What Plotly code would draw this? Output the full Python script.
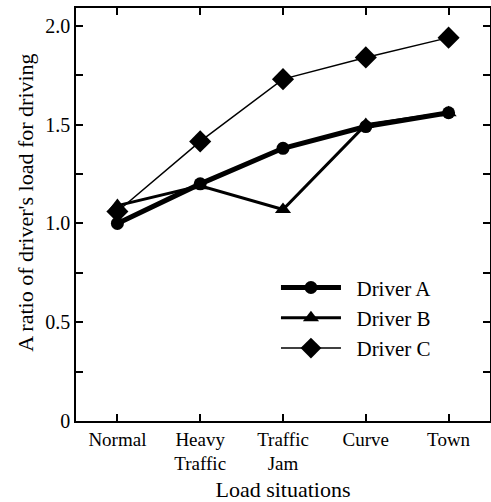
import plotly.graph_objects as go

categories = ["Normal", "Heavy<br>Traffic", "Traffic<br>Jam", "Curve", "Town"]
driver_a = [1.00, 1.20, 1.38, 1.49, 1.56]
driver_b = [1.09, 1.19, 1.07, 1.50, 1.56]
driver_c = [1.06, 1.415, 1.73, 1.84, 1.94]
y_tick_vals = [0, 0.25, 0.5, 0.75, 1.0, 1.25, 1.5, 1.75, 2.0]
y_tick_text = ["0", "", "0.5", "", "1.0", "", "1.5", "", "2.0"]

FONT = "Liberation Serif"
x = list(range(len(categories)))

fig = go.Figure()
fig.add_trace(go.Scatter(x=x, y=driver_a, name="\u00a0\u00a0Driver A", mode="lines+markers",
                         line=dict(color="black", width=5),
                         marker=dict(symbol="circle", size=13, color="black")))
fig.add_trace(go.Scatter(x=x, y=driver_b, name="\u00a0\u00a0Driver B", mode="lines+markers",
                         line=dict(color="black", width=3),
                         marker=dict(symbol="triangle-up", size=14, color="black")))
fig.add_trace(go.Scatter(x=x, y=driver_c, name="\u00a0\u00a0Driver C", mode="lines+markers",
                         line=dict(color="black", width=1.5),
                         marker=dict(symbol="diamond", size=17, color="black")))

fig.add_annotation(text="A ratio of driver's load for driving", textangle=-90,
                   xref="paper", yref="paper", x=-0.121, y=0.528,
                   xanchor="center", yanchor="middle", showarrow=False,
                   font=dict(size=22, family=FONT, color="black"))

fig.update_layout(
    width=491, height=502,
    margin=dict(l=76, r=1, t=8, b=81, autoexpand=False),
    plot_bgcolor="white", paper_bgcolor="white",
    font=dict(family=FONT, color="black", size=19),
    showlegend=True,
    legend=dict(x=0.483, y=0.372, xanchor="left", yanchor="top",
                bgcolor="rgba(0,0,0,0)", font=dict(size=21, family=FONT),
                itemwidth=60, tracegroupgap=0),
    xaxis=dict(range=[-0.5, 4.5], tickmode="array", tickvals=x, ticktext=categories,
               ticks="inside", ticklen=7, tickwidth=1.5, tickcolor="black",
               showline=True, linecolor="black", linewidth=1.5, mirror="ticks",
               showgrid=False, zeroline=False, automargin=False,
               title=dict(text="Load situations", font=dict(size=22, family=FONT), standoff=14),
               tickfont=dict(size=19, family=FONT)),
    yaxis=dict(range=[0, 2.09], tickmode="array", tickvals=y_tick_vals, ticktext=y_tick_text,
               ticks="inside", ticklen=7, tickwidth=1.5, tickcolor="black",
               showline=True, linecolor="black", linewidth=1.5, mirror="ticks",
               showgrid=False, zeroline=False, automargin=False,
               tickfont=dict(size=20, family=FONT)),
)

fig.write_html("out.html", config={"displayModeBar": False},
               post_script="document.body.style.margin='0';document.body.style.overflow='hidden';")
